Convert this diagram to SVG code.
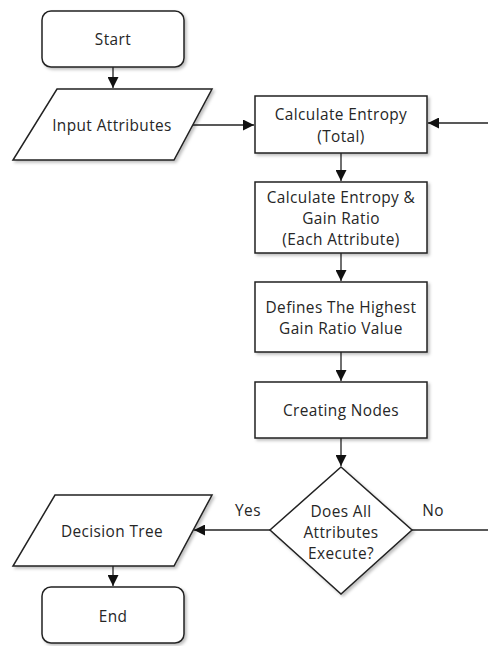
<svg xmlns="http://www.w3.org/2000/svg" width="488" height="646" viewBox="0 0 488 646">
<style>
.s{fill:#fff;stroke:#222;stroke-width:1.5;filter:url(#sh)}
.t{font-family:"Open Sans","DejaVu Sans",sans-serif;font-size:15.4px;letter-spacing:0.4px;fill:#262626;text-anchor:middle}
.c{fill:none;stroke:#222;stroke-width:1.3}
</style>
<defs>
<filter id="sh" x="-10%" y="-10%" width="130%" height="130%">
<feDropShadow dx="2" dy="2" stdDeviation="1.5" flood-color="#000" flood-opacity="0.25"/>
</filter>
<marker id="a" viewBox="0 0 10 10" refX="10" refY="5" markerWidth="11" markerHeight="11" markerUnits="userSpaceOnUse" orient="auto">
<path d="M0,0 L10,5 L0,10 z" fill="#111"/>
</marker>
</defs>
<rect width="488" height="646" fill="#fff"/>
<g id="connectors">
<path class="c" d="M113,67 V88" marker-end="url(#a)"/>
<path class="c" d="M193,125 H254" marker-end="url(#a)"/>
<path class="c" d="M488,123 H428" marker-end="url(#a)"/>
<path class="c" d="M341,153 V181" marker-end="url(#a)"/>
<path class="c" d="M341,253 V281" marker-end="url(#a)"/>
<path class="c" d="M341,352 V381" marker-end="url(#a)"/>
<path class="c" d="M341,438 V466" marker-end="url(#a)"/>
<path class="c" d="M270,530 H194" marker-end="url(#a)"/>
<path class="c" d="M412,530 H488"/>
<path class="c" d="M113,566 V586" marker-end="url(#a)"/>
<text class="t" x="248" y="516">Yes</text>
<text class="t" x="433" y="516">No</text>
</g>
<g id="start">
<rect class="s" x="42" y="11" width="142" height="56" rx="9"/>
<text class="t" x="113" y="45">Start</text>
</g>
<g id="input">
<path class="s" d="M57,89 H212 L174,160 H13 Z"/>
<text class="t" x="112" y="131">Input Attributes</text>
</g>
<g id="entropy-total">
<rect class="s" x="255" y="96" width="172" height="57"/>
<text class="t" x="341" y="120">Calculate Entropy</text>
<text class="t" x="341" y="142">(Total)</text>
</g>
<g id="entropy-each">
<rect class="s" x="255" y="182" width="172" height="71"/>
<text class="t" x="341" y="203">Calculate Entropy &amp;</text>
<text class="t" x="341" y="224">Gain Ratio</text>
<text class="t" x="341" y="245">(Each Attribute)</text>
</g>
<g id="highest">
<rect class="s" x="255" y="282" width="172" height="70"/>
<text class="t" x="341" y="313">Defines The Highest</text>
<text class="t" x="341" y="334">Gain Ratio Value</text>
</g>
<g id="nodes">
<rect class="s" x="255" y="382" width="172" height="56"/>
<text class="t" x="341" y="416">Creating Nodes</text>
</g>
<g id="decision">
<path class="s" d="M341,467 L412,530 L341,594 L270,530 Z"/>
<text class="t" x="341" y="517">Does All</text>
<text class="t" x="341" y="538">Attributes</text>
<text class="t" x="341" y="559">Execute?</text>
</g>
<g id="tree">
<path class="s" d="M55,495 H212 L174,566 H13 Z"/>
<text class="t" x="112" y="537">Decision Tree</text>
</g>
<g id="end">
<rect class="s" x="42" y="587" width="142" height="56" rx="9"/>
<text class="t" x="113" y="622">End</text>
</g>
</svg>
